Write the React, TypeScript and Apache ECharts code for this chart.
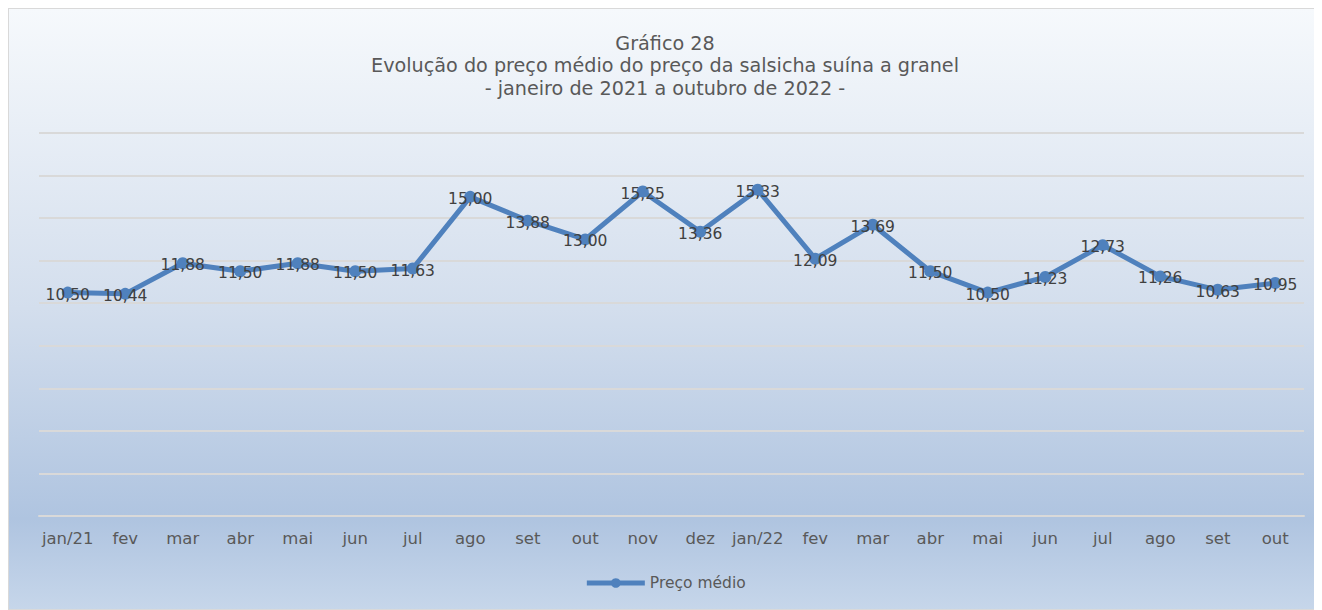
import React, { useEffect, useRef } from "react";
import * as echarts from "echarts";

const categories = ["jan/21", "fev", "mar", "abr", "mai", "jun", "jul", "ago", "set", "out", "nov", "dez", "jan/22", "fev", "mar", "abr", "mai", "jun", "jul", "ago", "set", "out"];
const precoMedio = [10.5, 10.44, 11.88, 11.5, 11.88, 11.5, 11.63, 15.0, 13.88, 13.0, 15.25, 13.36, 15.33, 12.09, 13.69, 11.5, 10.5, 11.23, 12.73, 11.26, 10.63, 10.95];
const seriesName = "Preço médio";
const titleLines = ["Gráfico 28", "Evolução do preço médio do preço da salsicha suína a granel", "- janeiro de 2021 a outubro de 2022 -"];

export default function App() {
  const ref = useRef<HTMLDivElement>(null);
  useEffect(() => {
    if (!ref.current) return;
    const chart = echarts.init(ref.current, undefined, { renderer: "svg" });
    const font = "Verdana, 'DejaVu Sans', sans-serif";
    chart.setOption({
      animation: false,
      backgroundColor: new echarts.graphic.LinearGradient(0, 0, 0, 1, [
        { offset: 0, color: "#f6f9fc" },
        { offset: 0.5, color: "#d3deed" },
        { offset: 0.85, color: "#afc4e0" },
        { offset: 1, color: "#c6d6ea" },
      ]),
      title: {
        text: titleLines.join("\n"),
        left: "center",
        top: 18,
        textStyle: { fontFamily: font, fontSize: 19.2, fontWeight: "normal", color: "#595959", lineHeight: 22.5 },
      },
      legend: {
        bottom: 13,
        left: "center",
        data: [seriesName],
        itemWidth: 58,
        itemHeight: 12,
        itemGap: 2,
        lineStyle: { width: 5 },
        textStyle: { fontFamily: font, fontSize: 15.5, color: "#595959" },
      },
      grid: { left: 30, right: 17, top: 124, bottom: 93, containLabel: false },
      xAxis: {
        type: "category",
        data: categories,
        boundaryGap: true,
        axisLine: { show: true, lineStyle: { color: "#d9d9d9", width: 2 } },
        axisTick: { show: false },
        axisLabel: { fontFamily: font, fontSize: 16.5, color: "#595959", margin: 14, interval: 0 },
      },
      yAxis: {
        type: "value",
        min: 0,
        max: 18,
        interval: 2,
        axisLabel: { show: false },
        axisLine: { show: false },
        axisTick: { show: false },
        splitLine: { lineStyle: { color: "#d9d9d9", width: 2 } },
      },
      series: [
        {
          name: seriesName,
          type: "line",
          data: precoMedio,
          symbol: "circle",
          symbolSize: 12,
          lineStyle: { color: "#4f81bd", width: 5 },
          itemStyle: { color: "#4f81bd" },
          label: {
            show: true,
            position: "inside",
            offset: [0, 2],
            fontFamily: font,
            fontSize: 15.5,
            color: "#404040",
            formatter: (p: any) => p.value.toFixed(2).replace(".", ","),
          },
        },
      ],
    });
    return () => chart.dispose();
  }, []);
  return (
    <div
      ref={ref}
      style={{ width: 1312, height: 600, border: "1px solid #d9d9d9" }}
    />
  );
}
